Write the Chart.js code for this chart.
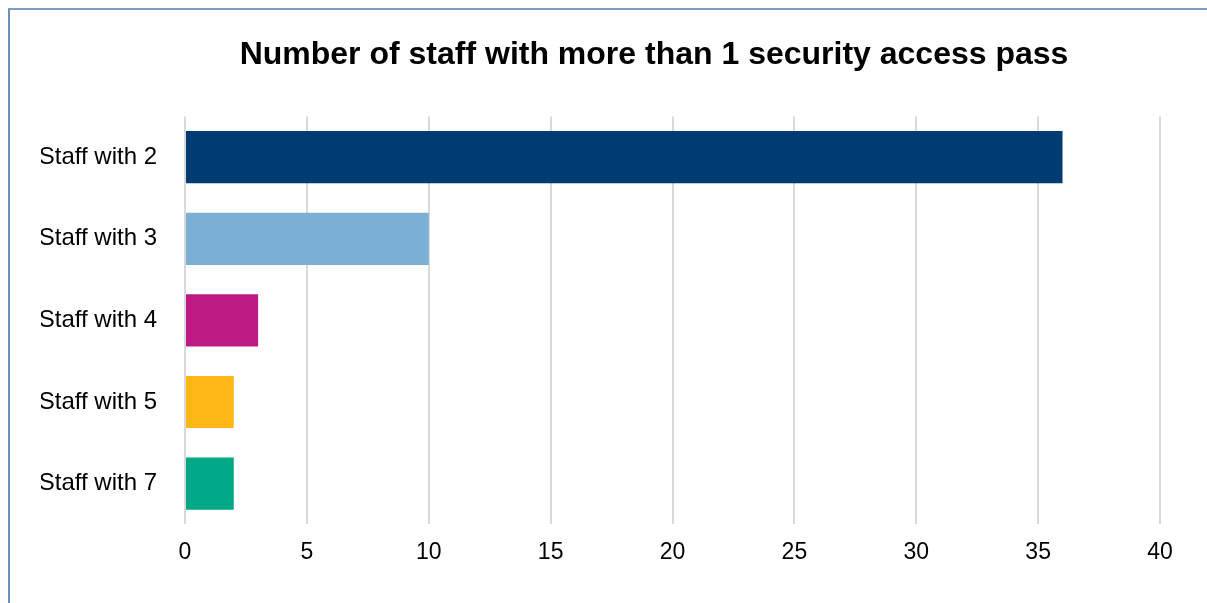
<!DOCTYPE html>
<html>
<head>
<meta charset="utf-8">
<script src="https://cdn.jsdelivr.net/npm/chart.js@4"></script>
<style>
    html, body { margin: 0; padding: 0; background: #fff; overflow: hidden; }
    #frame {
        position: absolute; left: 8px; top: 8px; width: 1199px; height: 595px;
        border-left: 2px solid #6b8fba; border-top: 2px solid #7c9cc4;
    }
    /* canvas runs past the right edge so the title sits where the reference has it */
    #wrap { position: absolute; left: 10px; top: 10px; width: 1257px; height: 593px; }
</style>
</head>
<body>
<div id="frame"></div>
<div id="wrap"><canvas id="myChart"></canvas></div>
<script>
//---------------------------------------------------------------------------
// Data
const categories = ['Staff with 2', 'Staff with 3', 'Staff with 4', 'Staff with 5', 'Staff with 7'];
const staffCount = [36, 10, 3, 2, 2];
const barColors = ['#003b71', '#7bafd4', '#be1a84', '#feb516', '#00a887'];
const xTicks = [0, 5, 10, 15, 20, 25, 30, 35, 40];
//---------------------------------------------------------------------------
const FONT = "'Liberation Sans', Arial, sans-serif";

var ctx = document.getElementById('myChart');
new Chart(ctx, {
    type: 'bar',
    data: {
        labels: categories,
        datasets: [{
            label: 'Staff',
            data: staffCount,
            backgroundColor: barColors,
            borderWidth: 0,
            categoryPercentage: 1,
            barPercentage: 0.64
        }]
    },
    options: {
        indexAxis: 'y',
        responsive: true,
        maintainAspectRatio: false,
        animation: false,
        layout: {
            padding: { left: 31, right: 0, top: 0, bottom: 23 }
        },
        plugins: {
            legend: { display: false },
            tooltip: { enabled: false },
            title: {
                display: true,
                text: 'Number of staff with more than 1 security access pass',
                color: '#000',
                font: { family: FONT, size: 32, weight: 'bold' },
                padding: { top: 26, bottom: 42 }
            }
        },
        scales: {
            x: {
                min: xTicks[0],
                max: xTicks[xTicks.length - 1],
                afterBuildTicks: (scale) => {
                    scale.ticks = xTicks.map(v => ({ value: v }));
                },
                grid: { color: '#d9d9d9', lineWidth: 2, drawTicks: false },
                border: { display: false },
                ticks: {
                    color: '#000',
                    padding: 14,
                    font: { family: FONT, size: 23 }
                }
            },
            y: {
                grid: { display: false, drawTicks: false },
                border: { display: false },
                afterFit: (scale) => { scale.width = 144; },
                ticks: {
                    color: '#000',
                    padding: 28,
                    font: { family: FONT, size: 24 }
                }
            },
            // empty right-hand box: keeps the plot narrow without moving the title
            spacer: {
                type: 'linear',
                position: 'right',
                grid: { display: false, drawTicks: false },
                border: { display: false },
                ticks: { display: false },
                afterFit: (scale) => { scale.width = 107; }
            }
        }
    }
});
</script>
</body>
</html>
